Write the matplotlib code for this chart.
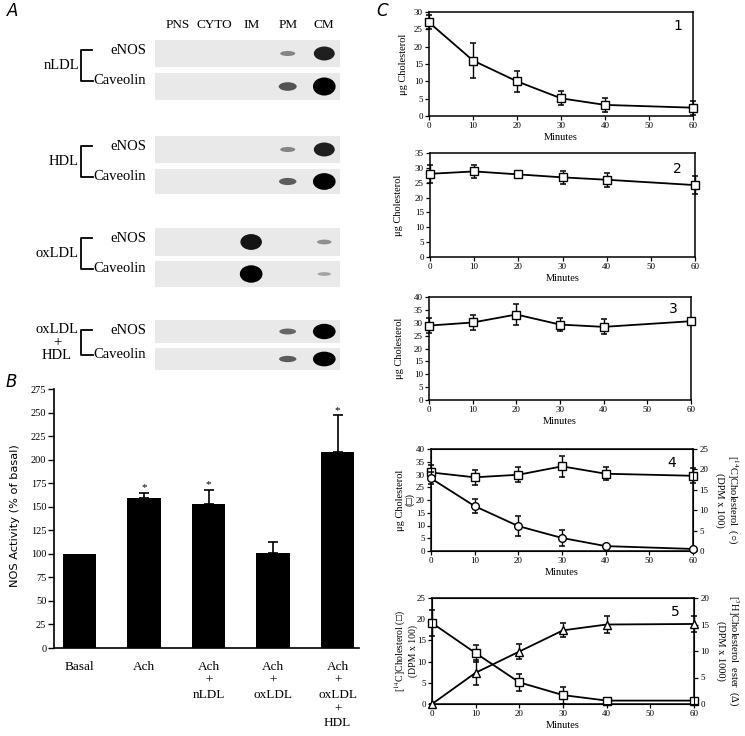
import matplotlib
matplotlib.use('Agg')
import matplotlib.pyplot as plt
from matplotlib.patches import Ellipse, Rectangle
from matplotlib.lines import Line2D
from matplotlib.transforms import blended_transform_factory
import numpy as np

W, H = 745, 736
plt.rcParams['font.family'] = ['Liberation Serif', 'DejaVu Serif', 'DejaVu Sans']
plt.rcParams['mathtext.fontset'] = 'stix'
SANS = ['DejaVu Sans']

# ---------------- Data ----------------
lanes = ['PNS', 'CYTO', 'IM', 'PM', 'CM']
treatments = ['nLDL', 'HDL', 'oxLDL', 'oxLDL\n+\nHDL']
proteins = ['eNOS', 'Caveolin']
enos_bands = [[0, 0, 0, 0.35, 0.85],
              [0, 0, 0, 0.35, 0.85],
              [0, 0, 0.9, 0, 0.3],
              [0, 0, 0, 0.5, 1.0]]
cav_bands = [[0, 0, 0, 0.6, 1.0],
             [0, 0, 0, 0.55, 1.0],
             [0, 0, 1.0, 0, 0.2],
             [0, 0, 0, 0.55, 1.0]]

b_categories = ['Basal', 'Ach', 'Ach\n+\nnLDL', 'Ach\n+\noxLDL', 'Ach\n+\noxLDL\n+\nHDL']
b_values = [100, 159, 153, 101, 208]
b_errors = [0, 6, 15, 12, 39]
b_signif = [False, True, True, False, True]

minutes = [0, 10, 20, 30, 40, 60]
c1_chol = [27, 16, 10, 5.1, 3.2, 2.4]
c1_err = [2, 5, 3, 2, 2, 2]
c2_chol = [28, 28.8, 27.8, 26.8, 26, 24.2]
c2_err = [3, 2.2, 0.5, 2.3, 2.3, 3]
c3_chol = [28.9, 30.1, 33.2, 29.3, 28.4, 30.6]
c3_err = [3, 2.8, 4.2, 2.4, 2.9, 0]
c4_chol = [30.8, 28.9, 29.9, 33.2, 30.3, 29.5]
c4_chol_err = [3, 3, 3, 4, 2.5, 3]
c4_c14 = [17.8, 11.0, 6.1, 3.2, 1.2, 0.5]
c4_c14_err = [1.5, 1.8, 2.4, 2.0, 0, 0]
c5_c14 = [19.1, 12.0, 5.1, 2.1, 0.8, 0.8]
c5_c14_err = [3, 2, 2, 2, 0, 0]
c5_ester = [0, 5.9, 9.9, 13.9, 15.0, 15.1]
c5_ester_err = [0, 2.4, 1.5, 1.3, 1.6, 1.5]

# ---------------- Figure ----------------
fig = plt.figure(figsize=(W / 100, H / 100), dpi=100)


def px_axes(l, t, r, b):
    return fig.add_axes([l / W, 1 - b / H, (r - l) / W, (b - t) / H])


def ftext(x, y, s, **kw):
    return fig.text(x / W, 1 - y / H, s, **kw)


def fline(xs, ys, **kw):
    fig.add_artist(Line2D([x / W for x in xs], [1 - y / H for y in ys],
                          transform=fig.transFigure, color='black', lw=1.3, **kw))


# ---------------- Panel A ----------------
ftext(7, 11, 'A', fontsize=12, style='italic', family=SANS, ha='left', va='center')
enos_top = [40, 136, 228, 320]
enos_bot = [67, 163, 256, 343]
cav_top = [73, 169, 261, 348]
cav_bot = [100, 194, 287, 370]
first_ax = None
for g in range(4):
    for prot, top, bot, bands in ((0, enos_top[g], enos_bot[g], enos_bands[g]),
                                  (1, cav_top[g], cav_bot[g], cav_bands[g])):
        ax = px_axes(155, top, 340, bot)
        ax.set_xlim(-0.63, 4.43)
        ax.set_ylim(0, 1)
        ax.axis('off')
        ax.add_patch(Rectangle((0, 0), 1, 1, transform=ax.transAxes,
                               facecolor='#e9e9e9', edgecolor='none'))
        for i, inten in enumerate(bands):
            if inten > 0:
                gray = 0.8 * (1 - inten)
                ax.add_patch(Ellipse((i, 0.5), width=0.3 + 0.32 * inten,
                                     height=0.12 + 0.55 * inten ** 2,
                                     facecolor=str(gray), edgecolor='none'))
        if first_ax is None:
            first_ax = ax
    ye = enos_top[g] + 10
    yc = cav_top[g] + (8 if g < 3 else 7)
    ftext(146, ye, proteins[0], fontsize=10.5, ha='right', va='center')
    ftext(146, yc, proteins[1], fontsize=10.5, ha='right', va='center')
    fline([92, 81, 81, 93], [ye, ye, yc, yc])
    if g < 3:
        ftext(79, (ye + yc) / 2, treatments[g], fontsize=10.5, ha='right', va='center')
    else:
        ftext(57, (ye + yc) / 2, treatments[g], fontsize=10.5, ha='center',
              va='center', linespacing=1.0)

trans = blended_transform_factory(first_ax.transData, first_ax.transAxes)
for i, name in enumerate(lanes):
    first_ax.text(i, 1.55, name, transform=trans, fontsize=9.5, ha='center', va='center')

# ---------------- Panel B ----------------
ftext(6, 382, 'B', fontsize=12, style='italic', family=SANS, ha='left', va='center')
axB = px_axes(54, 389, 359, 648)
xb = np.arange(len(b_values))
axB.bar(xb, b_values, width=0.52, color='black')
for xi, v, e, s in zip(xb, b_values, b_errors, b_signif):
    if e > 0:
        axB.errorbar([xi], [v], yerr=[[0], [e]], fmt='none', ecolor='black',
                     elinewidth=1.2, capsize=3.5, capthick=1.2)
    if s:
        axB.text(xi, v + e + 5, '*', ha='center', va='center', fontsize=8)
axB.set_xlim(-0.395, 4.33)
axB.set_ylim(0, 275)
axB.set_yticks(np.arange(0, 276, 25))
axB.set_xticks(xb)
axB.set_xticklabels(b_categories, fontsize=9.5, linespacing=1.25, va='top')
axB.tick_params(axis='x', length=0, pad=9)
axB.tick_params(axis='y', direction='out', length=4, width=1, labelsize=7.5, pad=1.5)
for sp in ('top', 'right'):
    axB.spines[sp].set_visible(False)
for sp in ('left', 'bottom'):
    axB.spines[sp].set_linewidth(1.2)
ftext(15, 516, 'NOS Activity (% of basal)', fontsize=8.2, family=SANS,
      rotation=90, ha='center', va='center')

# ---------------- Panel C ----------------
ftext(376, 11, 'C', fontsize=12, style='italic', family=SANS, ha='left', va='center')


def c_axes(l, t, r, b, ymax):
    ax = px_axes(l, t, r, b)
    ax.set_xlim(0, 60)
    ax.set_ylim(0, ymax)
    ax.set_xticks(range(0, 61, 10))
    ax.set_yticks(range(0, ymax + 1, 5))
    ax.tick_params(direction='out', length=3, width=0.9, labelsize=6.5, pad=1.5)
    for sp in ax.spines.values():
        sp.set_linewidth(1.1)
    ax.set_xlabel('Minutes', fontsize=7.5, labelpad=2)
    return ax


def series(ax, y, err, marker):
    ax.errorbar(minutes, y, yerr=err, fmt='none', ecolor='black', elinewidth=1,
                capsize=2.5, capthick=1.1, clip_on=False, zorder=2)
    ax.plot(minutes, y, '-', color='black', lw=1.3, marker=marker, ms=5.5,
            mfc='white', mec='black', mew=1, clip_on=False, zorder=3)


ax1 = c_axes(429, 12, 693, 116, 30)
series(ax1, c1_chol, c1_err, 's')
ftext(403, 64, 'μg Cholesterol', fontsize=7.5, rotation=90, ha='center', va='center')
ftext(678, 26, '1', fontsize=10, family=SANS, ha='center', va='center')

ax2 = c_axes(430, 153, 695, 257, 35)
series(ax2, c2_chol, c2_err, 's')
ftext(398, 205, 'μg Cholesterol', fontsize=7.5, rotation=90, ha='center', va='center')
ftext(677, 169, '2', fontsize=10, family=SANS, ha='center', va='center')

ax3 = c_axes(429, 297, 691, 400, 40)
series(ax3, c3_chol, c3_err, 's')
ftext(400, 348, 'μg Cholesterol', fontsize=7.5, rotation=90, ha='center', va='center')
ftext(673, 309, '3', fontsize=10, family=SANS, ha='center', va='center')

ax4 = c_axes(431, 449, 693, 551, 40)
ax4b = ax4.twinx()
ax4b.set_ylim(0, 25)
ax4b.set_yticks(range(0, 26, 5))
ax4b.tick_params(direction='out', length=3, width=0.9, labelsize=6.5, pad=1.5)
series(ax4, c4_chol, c4_chol_err, 's')
series(ax4b, c4_c14, c4_c14_err, 'o')
ftext(405, 500, 'μg Cholesterol\n(□)', fontsize=7.5, rotation=90, ha='center',
      va='center', linespacing=1.05)
ftext(728, 500, '[$^{14}$C]Cholesterol  (○)\n(DPM x 100)', fontsize=7.5, rotation=270,
      ha='center', va='center', linespacing=1.05)
ftext(672, 463, '4', fontsize=10, family=SANS, ha='center', va='center')

ax5 = c_axes(432, 598, 694, 704, 25)
ax5b = ax5.twinx()
ax5b.set_ylim(0, 20)
ax5b.set_yticks(range(0, 21, 5))
ax5b.tick_params(direction='out', length=3, width=0.9, labelsize=6.5, pad=1.5)
series(ax5, c5_c14, c5_c14_err, 's')
series(ax5b, c5_ester, c5_ester_err, '^')
ftext(405, 651, '[$^{14}$C]Cholesterol (□)\n(DPM x 100)', fontsize=7, rotation=90,
      ha='center', va='center', linespacing=1.05)
ftext(728, 651, '[$^{3}$H]Cholesterol  ester  (Δ)\n(DPM x 1000)', fontsize=7.5,
      rotation=270, ha='center', va='center', linespacing=1.05)
ftext(675, 612, '5', fontsize=10, family=SANS, ha='center', va='center')

fig.savefig('out.png', dpi=100)
